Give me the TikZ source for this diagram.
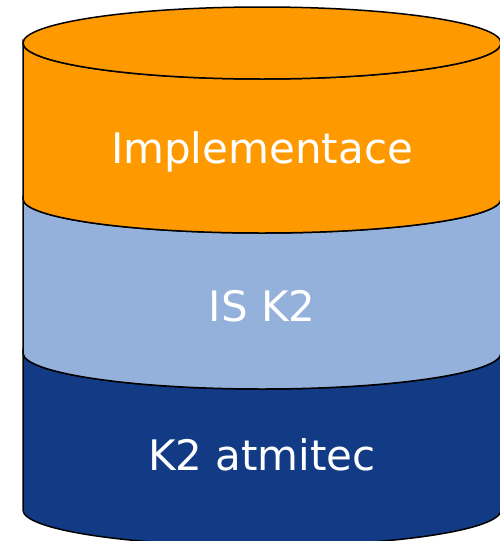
\documentclass[tikz,border=0pt]{standalone}
\usepackage{fontspec}
\setmainfont{DejaVu Sans}
\definecolor{layerorange}{HTML}{FF9900}
\definecolor{layerlight}{HTML}{93B1DA}
\definecolor{layerdark}{HTML}{133B85}
\begin{document}
\begin{tikzpicture}[x=1pt,y=1pt,
  outline/.style={draw=black,line width=1.5pt},
  lbl/.style={text=white,anchor=base,inner sep=0pt,font=\fontsize{42}{50}\selectfont}]
\useasboundingbox (0,0) rectangle (500,-541);
\clip (0,0) rectangle (500,-541);
% dark layer
\path[outline,fill=layerdark] (23,-353) -- (23,-510)
  arc[start angle=180,end angle=360,x radius=239,y radius=36] -- (501,-353)
  arc[start angle=0,end angle=-180,x radius=239,y radius=36] -- cycle;
% light layer
\path[outline,fill=layerlight] (23,-199) -- (23,-353)
  arc[start angle=180,end angle=360,x radius=239,y radius=36] -- (501,-199)
  arc[start angle=0,end angle=-180,x radius=239,y radius=34] -- cycle;
% orange layer
\path[outline,fill=layerorange] (23,-43) -- (23,-199)
  arc[start angle=180,end angle=360,x radius=239,y radius=34] -- (501,-43)
  arc[start angle=0,end angle=-180,x radius=239,y radius=36] -- cycle;
% top ellipse
\path[outline,fill=layerorange] (262,-43) ellipse[x radius=239,y radius=36];
\node[lbl] (impl) at (262,-163) {Implementace};
\node[lbl] (is) at (262,-321) {IS K2};
\node[lbl] (atm) at (262,-470) {K2 atmitec};
\end{tikzpicture}
\end{document}
